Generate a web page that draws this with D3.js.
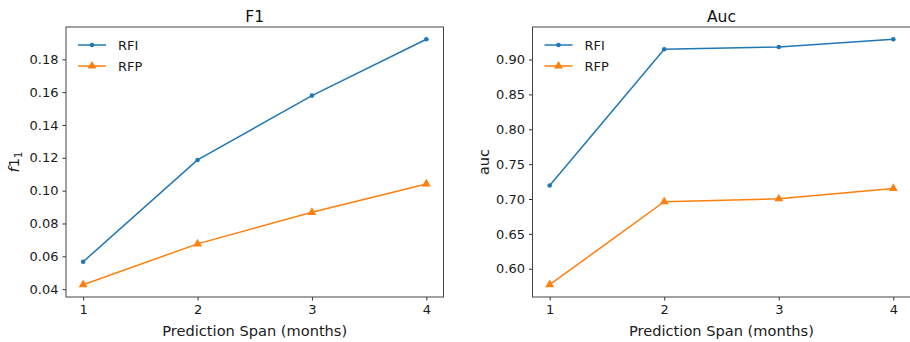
<!DOCTYPE html>
<html><head><meta charset="utf-8">
<script src="https://cdn.jsdelivr.net/npm/d3@7"></script>
<style>
body{margin:0;background:#fff;}
svg{display:block;font-family:"DejaVu Sans",sans-serif;}
</style></head>
<body>
<svg id="c" width="910" height="342"></svg>
<script>
const spans = [1, 2, 3, 4];
const seriesNames = ["RFI", "RFP"];
const f1RFI = [0.0567, 0.1187, 0.1579, 0.1922];
const f1RFP = [0.0427, 0.0676, 0.0868, 0.1041];
const aucRFI = [0.7194, 0.9147, 0.9180, 0.9290];
const aucRFP = [0.5771, 0.6961, 0.7003, 0.7151];
const f1Ticks = [0.04, 0.06, 0.08, 0.10, 0.12, 0.14, 0.16, 0.18];
const aucTicks = [0.60, 0.65, 0.70, 0.75, 0.80, 0.85, 0.90];
const xTicks = [1, 2, 3, 4];
const colors = ["#1f77b4", "#ff7f0e"];

const svg = d3.select("#c");

function panel(opts) {
  const {left, right, top, bottom, title, ylab, series, yTicks} = opts;
  const g = svg.append("g");
  const all = series.flat();
  const lo = d3.min(all), hi = d3.max(all), m = (hi - lo) * 0.05;
  const x = d3.scaleLinear().domain([0.85, 4.15]).range([left, right]);
  const y = d3.scaleLinear().domain([lo - m, hi + m]).range([bottom, top]);

  const line = d3.line().x((d, i) => x(spans[i])).y(d => y(d));
  series.forEach((s, k) => {
    g.append("path").attr("d", line(s)).attr("fill", "none")
      .attr("stroke", colors[k]).attr("stroke-width", 1.5);
    const pts = g.selectAll(null).data(s).enter();
    if (k === 0) {
      pts.append("circle").attr("cx", (d, i) => x(spans[i])).attr("cy", d => y(d))
        .attr("r", 2.3).attr("fill", colors[k]);
    } else {
      pts.append("path").attr("d", d3.symbol().type(d3.symbolTriangle).size(34))
        .attr("transform", (d, i) => `translate(${x(spans[i])},${y(d)})`)
        .attr("fill", colors[k]);
    }
  });

  const ax = g.append("g").attr("transform", `translate(0,${bottom})`)
    .call(d3.axisBottom(x).tickValues(xTicks).tickFormat(d3.format("d")).tickSize(3.5).tickPadding(4));
  const ay = g.append("g").attr("transform", `translate(${left},0)`)
    .call(d3.axisLeft(y).tickValues(yTicks).tickFormat(d3.format(".2f")).tickSize(3.5).tickPadding(4));
  [ax, ay].forEach(a => {
    a.select(".domain").remove();
    a.selectAll("line").attr("stroke", "#333");
    a.selectAll("text").attr("fill", "#1a1a1a").style("font-size", "13px")
      .style("font-family", "DejaVu Sans, sans-serif");
  });

  g.append("rect").attr("x", left).attr("y", top).attr("width", right - left)
    .attr("height", bottom - top).attr("fill", "none").attr("stroke", "#444").attr("stroke-width", 1);

  g.append("text").attr("x", (left + right) / 2).attr("y", 21.5).attr("text-anchor", "middle")
    .style("font-size", "15.5px").attr("fill", "#111").text(title);
  g.append("text").attr("x", (left + right) / 2).attr("y", 336).attr("text-anchor", "middle")
    .style("font-size", "14.6px").attr("fill", "#1a1a1a").text("Prediction Span (months)");
  const yl = g.append("text").attr("transform", `translate(${opts.ylx},${(top + bottom) / 2}) rotate(-90)`)
    .attr("text-anchor", "middle").style("font-size", "14.6px").attr("fill", "#1a1a1a");
  if (ylab === "f1") {
    yl.append("tspan").style("font-style", "italic").text("f");
    yl.append("tspan").text("1");
    yl.append("tspan").attr("dy", 3).style("font-size", "10px").text("1");
  } else {
    yl.text(ylab);
  }

  series.forEach((s, k) => {
    const ly = top + 18 + k * 21;
    const lx = left + 12;
    g.append("line").attr("x1", lx).attr("x2", lx + 28).attr("y1", ly).attr("y2", ly)
      .attr("stroke", colors[k]).attr("stroke-width", 1.5);
    if (k === 0) {
      g.append("circle").attr("cx", lx + 14).attr("cy", ly).attr("r", 2.3).attr("fill", colors[k]);
    } else {
      g.append("path").attr("d", d3.symbol().type(d3.symbolTriangle).size(34))
        .attr("transform", `translate(${lx + 14},${ly})`).attr("fill", colors[k]);
    }
    g.append("text").attr("x", lx + 40).attr("y", ly + 4.5).style("font-size", "13px")
      .attr("fill", "#1a1a1a").text(seriesNames[k]);
  });
}

panel({left: 66, right: 443.5, top: 27, bottom: 297, title: "F1", ylab: "f1",
  series: [f1RFI, f1RFP], yTicks: f1Ticks, ylx: 18.5});
panel({left: 532.5, right: 910.5, top: 27, bottom: 297, title: "Auc", ylab: "auc",
  series: [aucRFI, aucRFP], yTicks: aucTicks, ylx: 489});
</script>
</body></html>
